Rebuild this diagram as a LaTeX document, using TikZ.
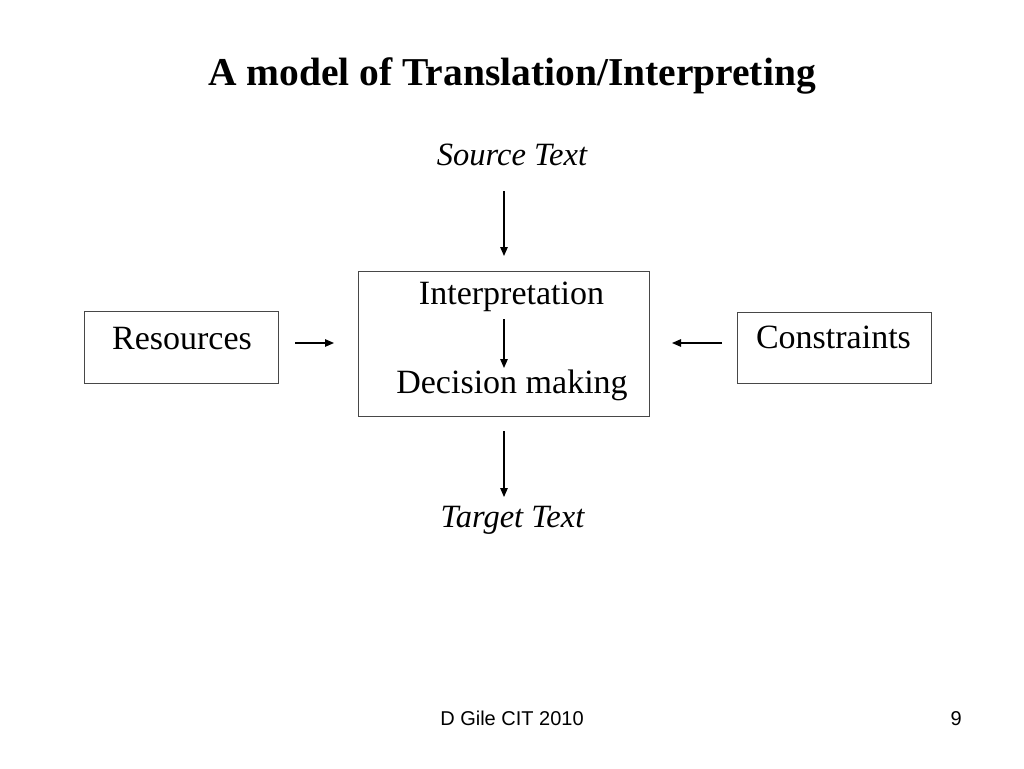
\documentclass[tikz,border=0pt]{standalone}
\usepackage{fontspec}
\setmainfont{Liberation Serif}
\newfontfamily\footfont{Liberation Sans}
\usetikzlibrary{arrows.meta}
\begin{document}
\begin{tikzpicture}[x=1pt,y=-1pt,
  txt/.style={anchor=base,inner sep=0pt,font=\fontsize{34}{40}\selectfont},
  itxt/.style={anchor=base,inner sep=0pt,font=\fontsize{32.5}{38}\selectfont\itshape},
  boxnode/.style={draw=black!72,line width=1pt,inner sep=0pt,fill=none},
  arr/.style={line width=1.2pt,-{Triangle[length=9pt,width=7.5pt]}},
  foot/.style={anchor=base,inner sep=0pt,font=\fontsize{20}{24}\selectfont\footfont}]
\useasboundingbox[fill=white] (0,0) rectangle (1024,768);
% title
\node[anchor=base,inner sep=0pt,font=\fontsize{39.5}{46}\selectfont\bfseries] (title) at (512,85) {A model of Translation/Interpreting};
% boxes
\node[boxnode,minimum width=194pt,minimum height=72pt] (resbox) at (181,347.5) {};
\node[boxnode,minimum width=291pt,minimum height=145pt] (mainbox) at (503.5,343.5) {};
\node[boxnode,minimum width=194pt,minimum height=71pt] (conbox) at (834,347.5) {};
% texts
\node[itxt] (src) at (512,165) {Source Text};
\node[itxt] (tgt) at (512.5,527) {Target Text};
\node[txt] (interp) at (511.5,304) {Interpretation};
\node[txt] (decis) at (512,393) {Decision making};
\node[txt] (res) at (182,349) {Resources};
\node[txt] (con) at (833.5,348) {Constraints};
\node[foot] (footl) at (512,725) {D Gile CIT 2010};
\node[foot,anchor=base east] (footr) at (962,725) {9};
% arrow ends
\coordinate (a1s) at (504,191);
\coordinate (a1e) at (504,256);
\coordinate (a2s) at (504,319);
\coordinate (a2e) at (504,368);
\coordinate (a3s) at (504,431);
\coordinate (a3e) at (504,497);
\coordinate (a4s) at (295,343);
\coordinate (a4e) at (334,343);
\coordinate (a5s) at (722,343);
\coordinate (a5e) at (672,343);
\draw[arr] (a1s) -- (a1e);
\draw[arr] (a2s) -- (a2e);
\draw[arr] (a3s) -- (a3e);
\draw[arr] (a4s) -- (a4e);
\draw[arr] (a5s) -- (a5e);
\end{tikzpicture}
\end{document}
